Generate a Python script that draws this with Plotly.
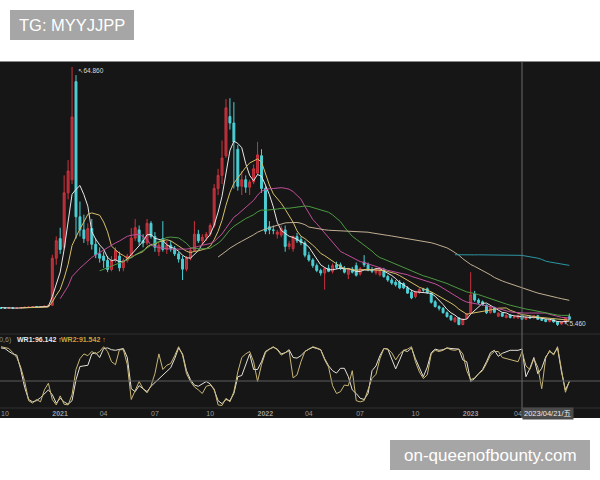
import pandas as pd
import plotly.graph_objects as go

# ---------------- data (weekly candles, first 4 weeks lie left of the view) ----------------
first_week = "2020-09-11"

opens = [
    9.6, 9.8, 9.7, 9.6,
    9.6, 9.55, 9.5, 9.6, 9.55, 9.6, 9.7, 9.75, 9.8, 9.85,
    9.8, 9.9, 10.0, 10.2, 21.0, 25.5, 23.5, 36.0, 39.0, 61.5,
    30.5, 27.5, 25.0, 27.8, 24.2, 22.0, 21.5, 20.5, 18.4, 20.5,
    21.5, 18.8, 20.5, 21.5, 25.6, 27.5, 25.0, 24.5, 29.0, 26.0,
    22.5, 25.5, 23.0, 24.0, 23.2, 22.0, 20.8, 18.5, 21.0, 22.8,
    26.5, 25.0, 25.8, 26.5, 28.5, 37.0, 40.0, 44.5, 53.5, 52.0,
    46.0, 37.5, 39.0, 37.3, 38.5, 40.5, 44.5, 37.0, 28.2, 27.5,
    26.5, 26.3, 27.5, 23.7, 23.2, 26.0, 25.3, 24.5, 21.7, 20.6,
    19.3, 18.2, 17.6, 18.7, 18.0, 19.5, 19.5, 18.7, 17.3, 18.5,
    19.3, 17.4, 20.1, 19.5, 18.4, 17.7, 17.2, 18.3, 16.8, 16.0,
    15.5, 15.5, 15.2, 14.2, 13.2, 12.2, 13.2, 13.8, 14.0, 13.0,
    11.0, 9.9, 9.5, 8.5, 7.8, 6.5, 7.3, 5.8, 7.2, 8.4,
    12.8, 11.4, 11.0, 10.2, 8.5, 9.7, 7.7, 8.4, 7.4, 7.9,
    7.4, 7.3, 7.9, 7.0, 7.5, 7.3, 7.8, 7.0, 6.9, 6.5,
    6.9, 6.4, 5.9, 6.4, 7.6,
]
highs = [
    10.2, 10.0, 9.9, 9.8,
    9.8, 9.7, 9.7, 9.75, 9.7, 9.8, 9.85, 9.9, 9.95, 9.95,
    10.0, 10.1, 10.3, 21.8, 26.0, 28.0, 40.0, 43.5, 64.86, 63.0,
    34.0, 31.0, 29.0, 30.0, 25.5, 23.5, 22.5, 21.5, 21.5, 23.5,
    22.5, 21.0, 22.0, 27.9, 30.0, 28.5, 26.5, 30.0, 29.5, 27.0,
    24.5, 29.5, 25.0, 25.0, 23.8, 22.5, 21.5, 21.5, 23.5, 29.5,
    27.5, 26.5, 27.0, 29.0, 38.0, 41.5, 48.0, 57.5, 57.7, 56.8,
    47.0, 41.0, 40.0, 39.0, 42.5, 47.7, 46.0, 37.5, 29.5, 28.5,
    27.5, 28.5, 28.5, 25.0, 26.2, 26.8, 26.0, 25.0, 22.5, 21.0,
    19.8, 18.6, 18.9, 19.5, 19.8, 20.2, 20.0, 19.2, 18.8, 19.0,
    20.0, 19.0, 21.7, 20.0, 19.0, 18.8, 19.0, 18.8, 17.2, 16.5,
    16.0, 16.0, 15.5, 14.6, 13.8, 13.5, 14.2, 14.2, 14.3, 13.2,
    11.4, 10.2, 9.8, 8.8, 8.0, 7.6, 7.5, 7.2, 8.4, 17.8,
    13.5, 11.8, 11.3, 10.4, 9.9, 9.9, 8.6, 8.6, 8.1, 8.2,
    7.9, 8.0, 8.1, 7.6, 7.9, 8.0, 8.0, 7.3, 7.1, 7.0,
    7.1, 6.6, 6.6, 7.5, 8.3,
]
lows = [
    9.4, 9.6, 9.5, 9.5,
    9.5, 9.45, 9.4, 9.5, 9.45, 9.5, 9.6, 9.65, 9.7, 9.7,
    9.75, 9.8, 9.9, 10.1, 19.5, 22.0, 22.9, 34.5, 38.0, 25.5,
    26.0, 24.5, 24.0, 23.0, 21.0, 20.0, 18.8, 17.8, 18.0, 20.0,
    18.0, 18.0, 20.0, 21.0, 25.0, 24.0, 23.5, 24.0, 25.5, 22.5,
    21.5, 22.5, 22.0, 22.5, 21.5, 20.0, 16.0, 18.0, 20.5, 22.5,
    24.5, 24.0, 25.0, 26.0, 28.0, 35.5, 38.0, 44.0, 50.5, 37.0,
    36.5, 35.5, 36.0, 35.5, 38.0, 40.0, 36.0, 26.5, 26.5, 26.5,
    25.5, 25.8, 22.5, 23.0, 22.5, 24.5, 24.0, 21.2, 20.2, 18.8,
    17.8, 17.0, 13.8, 17.8, 17.5, 18.5, 18.3, 17.5, 16.2, 17.5,
    16.8, 17.0, 19.0, 18.0, 17.6, 17.2, 16.8, 16.5, 15.6, 14.9,
    14.5, 13.9, 13.9, 12.8, 11.6, 11.8, 12.8, 13.3, 12.9, 10.6,
    9.7, 9.0, 8.3, 7.4, 6.6, 6.2, 5.6, 5.6, 7.0, 8.2,
    11.0, 10.5, 10.1, 8.2, 8.3, 8.4, 7.5, 7.5, 7.2, 7.2,
    7.1, 7.1, 6.8, 6.9, 7.2, 7.2, 6.9, 6.6, 6.3, 6.3,
    6.2, 5.46, 5.7, 6.3, 6.8,
]
closes = [
    9.8, 9.7, 9.6, 9.6,
    9.55, 9.5, 9.6, 9.55, 9.6, 9.7, 9.75, 9.8, 9.85, 9.8,
    9.9, 10.0, 10.2, 21.0, 25.0, 23.0, 36.0, 41.0, 53.4, 30.5,
    27.5, 25.5, 27.8, 24.2, 21.8, 21.0, 20.5, 18.4, 20.5, 22.8,
    18.8, 20.5, 21.5, 25.6, 28.0, 24.8, 24.5, 29.0, 26.0, 23.5,
    24.0, 23.0, 24.0, 23.2, 22.0, 20.8, 18.5, 21.0, 22.8, 26.5,
    25.0, 25.8, 26.5, 28.5, 37.0, 40.0, 44.0, 55.5, 52.0, 47.7,
    37.5, 39.0, 37.3, 38.5, 41.5, 44.7, 37.0, 27.2, 27.5, 27.4,
    27.0, 27.8, 23.7, 24.3, 26.0, 25.0, 24.6, 21.7, 20.6, 19.3,
    18.2, 17.6, 18.7, 18.0, 19.3, 18.9, 18.7, 17.8, 18.5, 17.8,
    17.1, 18.6, 19.5, 18.4, 18.0, 18.5, 18.6, 16.8, 16.0, 15.3,
    14.9, 14.2, 14.2, 13.0, 11.9, 13.2, 13.8, 13.7, 13.1, 10.9,
    9.9, 9.5, 8.5, 7.6, 6.9, 7.3, 5.8, 7.0, 8.2, 12.6,
    11.4, 10.8, 10.3, 8.5, 9.7, 8.6, 8.4, 7.7, 7.9, 7.4,
    7.5, 7.9, 7.0, 7.4, 7.3, 7.8, 7.0, 6.8, 6.5, 6.9,
    6.4, 5.8, 6.4, 7.3, 7.0,
]

# Williams %R (10, 6), one value per visible week (from 2020-10-09)
wr1 = [
    98, 97, 92, 88, 86, 62, 32, 12, 8, 10,
    15, 22, 28, 20, 6, 14, 8, 4, 10, 45,
    67, 68, 69, 88, 90, 82, 97, 98, 95, 94,
    96, 97, 82, 30, 25, 35, 30, 25, 34, 40,
    47, 52, 58, 65, 80, 98, 88, 60, 45, 36,
    34, 38, 42, 38, 28, 10, 5, 12, 10, 22,
    50, 52, 70, 88, 62, 62, 75, 92, 96, 99,
    96, 88, 90, 95, 82, 81, 85, 92, 96, 99,
    97, 95, 80, 68, 60, 56, 64, 64, 50, 28,
    22, 14, 12, 22, 60, 68, 85, 97, 96, 80,
    63, 78, 94, 92, 98, 80, 64, 50, 66, 90,
    96, 94, 95, 98, 97, 97, 96, 78, 75, 42,
    47, 55, 62, 75, 90, 94, 84, 89, 92, 94,
    94, 94, 96.142, 50, 64, 82, 55, 64, 83, 92,
    88, 98, 58, 28, 42,
]
wr2 = [
    100, 99, 97, 90, 82, 66, 42, 10, 6, 12,
    8, 28, 39, 12, 3, 18, 4, 3, 20, 62,
    80, 88, 85, 92, 88, 92, 100, 92, 75, 70,
    95, 95, 70, 12, 26, 42, 30, 23, 35, 55,
    88, 62, 69, 72, 85, 100, 86, 55, 42, 33,
    28, 22, 34, 36, 30, 3, 2, 14, 8, 25,
    58, 82, 88, 92, 75, 42, 70, 90, 96, 100,
    95, 86, 90, 93, 48, 53, 75, 92, 96, 100,
    98, 95, 78, 66, 35, 22, 25, 36, 35, 60,
    10, 8, 10, 28, 47, 54, 80, 97, 96, 90,
    78, 88, 94, 96, 100, 75, 58, 47, 53, 88,
    94, 92, 94, 98, 95, 94, 96, 88, 60, 45,
    48, 55, 60, 72, 86, 92, 92, 82, 80, 78,
    76, 75, 91.542, 68, 62, 80, 66, 30, 81, 94,
    86, 100, 62, 24, 42,
]
wr_mid = 42.8

tick_dates = ["2020-10-09", "2021-01-08", "2021-04-02", "2021-07-02", "2021-10-08",
              "2022-01-07", "2022-04-01", "2022-07-01", "2022-10-07", "2023-01-06",
              "2023-04-07", "2023-07-07"]
tick_text = ["10", "<b>2021</b>", "04", "07", "10", "<b>2022</b>", "04", "07", "10",
             "<b>2023</b>", "04", "07"]

crosshair_date = "2023-04-21"
ma_windows = [5, 10, 20, 30, 60, 120]
ma_colors = ["#e6e6e6", "#d6bf6a", "#c04f9a", "#4b9a42", "#c0af92", "#2c96a4"]

# ---------------- figure ----------------
W, H = 600, 480
dates = pd.date_range(first_week, periods=len(closes), freq="7D")
wr_dates = dates[len(dates) - len(wr1):]
close_s = pd.Series(closes, index=dates)
week = pd.Timedelta(days=7)
w0 = wr_dates[0]
x_range = [w0 - 0.253 * week, w0 + 151.76 * week]

def py(px):  # pixel row -> paper fraction
    return (H - px) / H

fig = go.Figure()
fig.add_trace(go.Candlestick(
    x=dates, open=opens, high=highs, low=lows, close=closes,
    increasing=dict(line=dict(color="#cc343e", width=1), fillcolor="#a82a34"),
    decreasing=dict(line=dict(color="#4ccfd4", width=1), fillcolor="#4ccfd4"),
    whiskerwidth=0, showlegend=False, hoverinfo="skip", xaxis="x", yaxis="y"))

for win, col in zip(ma_windows, ma_colors):
    ma = close_s.rolling(win).mean()
    fig.add_trace(go.Scatter(x=dates, y=ma, mode="lines", line=dict(color=col, width=1),
                             showlegend=False, hoverinfo="skip", xaxis="x", yaxis="y"))

fig.add_trace(go.Scatter(x=wr_dates, y=wr1, mode="lines", line=dict(color="#e4e2d8", width=1),
                         showlegend=False, hoverinfo="skip", xaxis="x", yaxis="y2"))
fig.add_trace(go.Scatter(x=wr_dates, y=wr2, mode="lines", line=dict(color="#c9b676", width=1),
                         showlegend=False, hoverinfo="skip", xaxis="x", yaxis="y2"))

dark_top, dark_bot = 61.5, 418
shapes = [
    dict(type="rect", xref="paper", yref="paper", x0=0, x1=1, y0=py(dark_bot), y1=py(dark_top),
         fillcolor="#161616", line=dict(width=0), layer="below"),
    dict(type="line", xref="paper", yref="paper", x0=0, x1=1, y0=py(334), y1=py(334),
         line=dict(color="#2e2e2e", width=1)),
    dict(type="line", xref="paper", yref="paper", x0=0, x1=1, y0=py(408), y1=py(408),
         line=dict(color="#2e2e2e", width=1)),
    dict(type="line", xref="paper", yref="y2", x0=0, x1=1, y0=wr_mid, y1=wr_mid,
         line=dict(color="#5c5c5c", width=1)),
    dict(type="line", xref="x", yref="paper", x0=crosshair_date, x1=crosshair_date,
         y0=py(dark_bot), y1=py(dark_top), line=dict(color="#6a6a6a", width=1)),
    dict(type="rect", xref="paper", yref="paper", x0=10 / W, x1=134 / W, y0=py(40), y1=py(10),
         fillcolor="#a6a6a6", line=dict(width=0)),
    dict(type="rect", xref="paper", yref="paper", x0=390 / W, x1=590 / W, y0=py(470), y1=py(440),
         fillcolor="#a6a6a6", line=dict(width=0)),
]

i_hi = max(range(len(highs)), key=lambda i: highs[i])
i_lo = min(range(len(lows)), key=lambda i: lows[i])
i_x = list(wr_dates).index(pd.Timestamp(crosshair_date))
cx = pd.Timestamp(crosshair_date)
weekday_cn = "一二三四五六日"[cx.weekday()]
small = "Liberation Sans, DejaVu Sans, Noto Sans CJK SC"

annotations = [
    dict(text="TG: MYYJJPP", xref="paper", yref="paper", x=72 / W, y=py(25.5),
         xanchor="center", yanchor="middle",
         showarrow=False, font=dict(size=16.5, color="white", family="Liberation Sans")),
    dict(text="on-queenofbounty.com", xref="paper", yref="paper", x=490 / W, y=py(455.5),
         xanchor="center", yanchor="middle",
         showarrow=False, font=dict(size=17, color="white", family="Liberation Sans")),
    dict(text=f"↖{highs[i_hi]:.3f}", xref="x", yref="y", x=dates[i_hi], y=highs[i_hi],
         xanchor="left", yanchor="middle", xshift=4, yshift=-4, showarrow=False,
         font=dict(size=6.5, color="#d8d8d8", family=small)),
    dict(text=f"↖{lows[i_lo]:.3f}", xref="x", yref="y", x=dates[i_lo], y=lows[i_lo],
         xanchor="left", yanchor="middle", xshift=4, yshift=2, showarrow=False,
         font=dict(size=6.5, color="#d8d8d8", family=small)),
    dict(text="(10,6)", xref="paper", yref="paper", x=13 / W, y=py(340), xanchor="right",
         yanchor="middle", showarrow=False, font=dict(size=7, color="#8a8a8a", family=small)),
    dict(text=f"<b>WR1:{wr1[i_x]:.3f}</b> ↑", xref="paper", yref="paper", x=15 / W, y=py(340),
         xanchor="left", yanchor="middle", showarrow=False,
         font=dict(size=7, color="#e8e8e8", family=small)),
    dict(text=f"<b>WR2:{wr2[i_x]:.3f}</b> ↑", xref="paper", yref="paper", x=59 / W, y=py(340),
         xanchor="left", yanchor="middle", showarrow=False,
         font=dict(size=7, color="#c9a43a", family=small)),
    dict(text=f"{cx:%Y/%m/%d}/{weekday_cn}", xref="x", yref="paper", x=crosshair_date, y=py(413),
         xanchor="left", yanchor="middle", xshift=0, showarrow=False, bgcolor="#4a4a4a",
         borderpad=1, font=dict(size=7.5, color="#eaeaea", family=small)),
]

fig.update_layout(
    width=W, height=H, autosize=False,
    margin=dict(l=0, r=0, t=0, b=0),
    paper_bgcolor="white", plot_bgcolor="rgba(0,0,0,0)",
    showlegend=False, hovermode=False,
    shapes=shapes, annotations=annotations,
    xaxis=dict(type="date", domain=[0, 1], anchor="y2", range=x_range,
               rangeslider=dict(visible=False), showgrid=False, zeroline=False, showline=False,
               tickvals=tick_dates, ticktext=tick_text, ticks="",
               ticklabelposition="outside right",
               tickfont=dict(size=7, color="#9c9c9c", family=small)),
    yaxis=dict(domain=[py(333), py(dark_top)], range=[3.85, 66.12], anchor="x",
               showgrid=False, zeroline=False, showticklabels=False),
    yaxis2=dict(domain=[py(408), py(334)], range=[-2.2, 121.2], anchor="x",
                showgrid=False, zeroline=False, showticklabels=False),
)

fig.write_html("out.html", config={"displayModeBar": False},
               post_script="document.body.style.margin='0';")
